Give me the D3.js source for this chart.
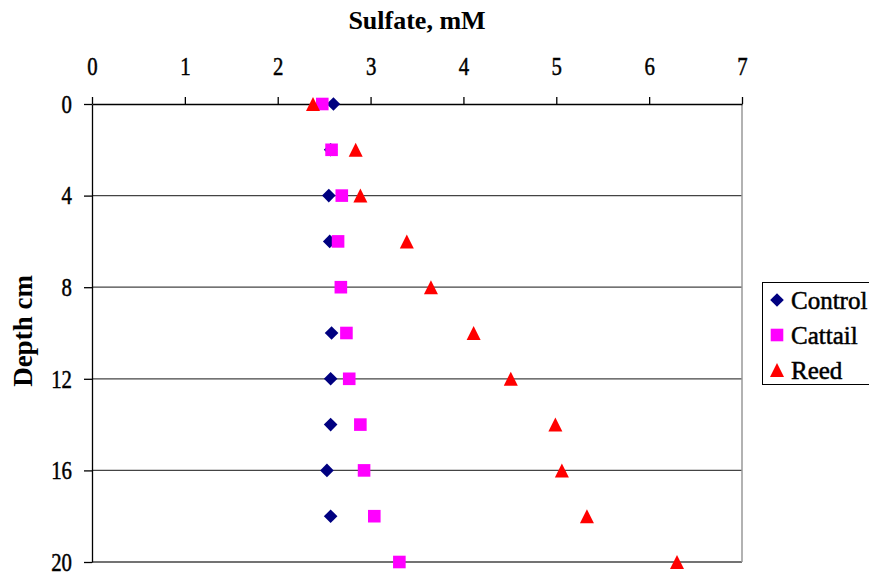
<html>
  <head>
    <script src="https://cdnjs.cloudflare.com/ajax/libs/d3/7.8.5/d3.min.js"></script>
    <style>
    body { margin: 0; background: white; }
    svg { display: block; }
    text { font-family: "Liberation Serif", "Times New Roman", serif; fill: black; }
    .heavy { stroke: black; stroke-width: 0.5px; }
    </style>
  </head>
  <body>
    <svg width="869" height="573" id="chart"></svg>

    <script>
    // depth (cm) down the page, sulfate (mM) across
    var depths = [0, 2, 4, 6, 8, 10, 12, 14, 16, 18, 20];
    var control = [2.60, 2.57, 2.55, 2.56, null, 2.58, 2.57, 2.57, 2.53, 2.57, null];
    var cattail = [2.48, 2.58, 2.69, 2.65, 2.68, 2.74, 2.77, 2.89, 2.93, 3.04, 3.31];
    var reed = [2.38, 2.84, 2.89, 3.39, 3.65, 4.11, 4.51, 4.99, 5.06, 5.33, 6.30];
    var xTicks = [0, 1, 2, 3, 4, 5, 6, 7];
    var yTicks = [0, 4, 8, 12, 16, 20];
    var seriesNames = ['Control', 'Cattail', 'Reed'];

    var serif = '"Liberation Serif", "Times New Roman", serif';
    var svg = d3.select('#chart');
    var plotL = 92, plotR = 742, plotT = 104, plotB = 562;

    var x = d3.scaleLinear().domain([0, 7]).range([plotL, plotR]);
    var y = d3.scaleLinear().domain([0, 20]).range([plotT, plotB]);

    // gridlines
    svg.append('g').selectAll('line')
      .data(yTicks.slice(1))
      .enter().append('line')
        .attr('x1', plotL).attr('x2', plotR)
        .attr('y1', function(d) { return y(d); })
        .attr('y2', function(d) { return y(d); })
        .attr('stroke', '#444')
        .attr('stroke-width', 1.3);

    svg.append('line')
      .attr('x1', plotR).attr('x2', plotR)
      .attr('y1', plotT).attr('y2', plotB)
      .attr('stroke', '#999')
      .attr('stroke-width', 1.5);

    var xAxis = svg.append('g')
      .attr('transform', 'translate(0,' + plotT + ')')
      .call(d3.axisTop(x).tickValues(xTicks).tickFormat(d3.format('d'))
        .tickSize(7).tickSizeOuter(0));
    var yAxis = svg.append('g')
      .attr('transform', 'translate(' + plotL + ',0)')
      .call(d3.axisLeft(y).tickValues(yTicks).tickFormat(d3.format('d'))
        .tickSize(8).tickSizeOuter(0));

    [xAxis, yAxis].forEach(function(a) {
      a.attr('font-family', null).attr('font-size', null);
      a.selectAll('path, line').attr('stroke', 'black').attr('stroke-width', 1.3);
      a.selectAll('text')
        .attr('class', 'heavy')
        .style('font-family', serif)
        .style('font-size', '26px')
        .attr('fill', 'black');
    });
    xAxis.selectAll('text').attr('y', -29).attr('dy', 0)
      .attr('transform', 'scale(0.8,1)');
    yAxis.selectAll('text').attr('x', 0)
      .attr('transform', 'translate(-20,0) scale(0.8,1)');

    svg.append('text')
      .attr('x', 417).attr('y', 29)
      .attr('text-anchor', 'middle')
      .style('font-family', serif)
      .style('font-weight', 'bold')
      .style('font-size', '26px')
      .text('Sulfate, mM');

    svg.append('text')
      .attr('transform', 'translate(32,331) rotate(-90)')
      .attr('text-anchor', 'middle')
      .style('font-family', serif)
      .style('font-weight', 'bold')
      .style('font-size', '27px')
      .text('Depth cm');

    // marker shapes
    function diamond(s) { return 'M0,' + (-s) + 'L' + s + ',0L0,' + s + 'L' + (-s) + ',0Z'; }
    function square(s) { return 'M' + (-s) + ',' + (-s) + 'h' + (2 * s) + 'v' + (2 * s) + 'h' + (-2 * s) + 'Z'; }
    function triangle(s) { return 'M0,' + (-s) + 'L' + s + ',' + s + 'L' + (-s) + ',' + s + 'Z'; }

    var series = [
      {values: control, color: '#000080', shape: diamond, size: 6.8},
      {values: cattail, color: '#FF00FF', shape: square, size: 6.3},
      {values: reed, color: '#FF0000', shape: triangle, size: 7}
    ];

    series.forEach(function(s) {
      var pts = depths.map(function(d, i) { return {depth: d, value: s.values[i]}; })
        .filter(function(p) { return p.value !== null; });
      svg.append('g').selectAll('path')
        .data(pts)
        .enter().append('path')
          .attr('transform', function(p) { return 'translate(' + x(p.value) + ',' + y(p.depth) + ')'; })
          .attr('d', s.shape(s.size))
          .attr('fill', s.color);
    });

    // legend
    var legend = svg.append('g');
    legend.append('rect')
      .attr('x', 762.5).attr('y', 282.5)
      .attr('width', 130).attr('height', 102)
      .attr('fill', 'white')
      .attr('stroke', 'black');
    var rows = legend.selectAll('g.row')
      .data(series)
      .enter().append('g')
        .attr('class', 'row')
        .attr('transform', function(_, i) { return 'translate(777,' + (300 + i * 35) + ')'; });
    rows.append('path')
      .attr('d', function(s) { return s.shape(s.size); })
      .attr('fill', function(s) { return s.color; });
    rows.append('text')
      .attr('class', 'heavy')
      .attr('x', 14).attr('y', 8.5)
      .style('font-family', serif)
      .style('font-size', '25px')
      .text(function(_, i) { return seriesNames[i]; });
    </script>
  </body>
</html>
